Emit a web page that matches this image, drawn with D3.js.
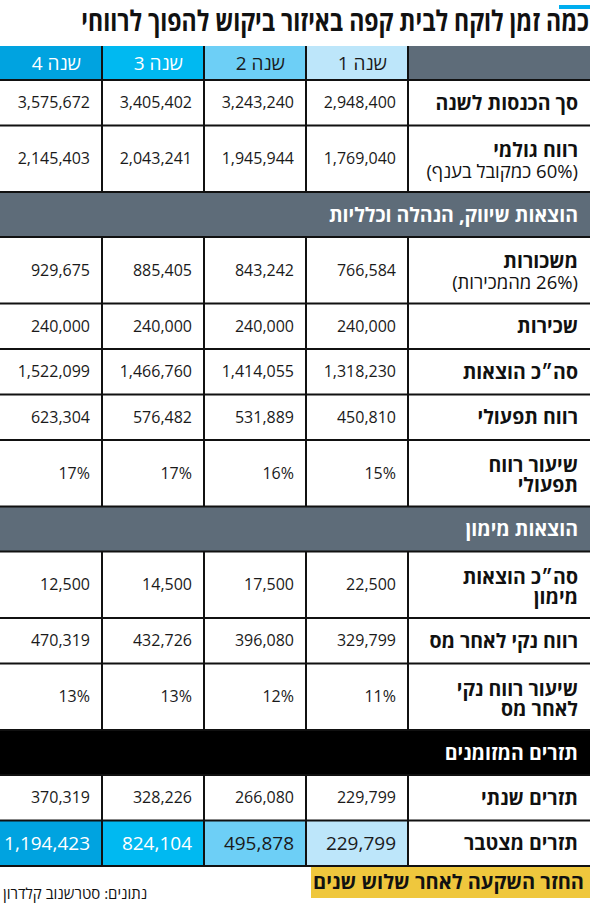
<!DOCTYPE html>
<html><head><meta charset="utf-8">
<script src="https://cdn.jsdelivr.net/npm/d3@7"></script>
<style>
html,body{margin:0;padding:0;background:#fff;}
svg{display:block;font-family:"Open Sans","Liberation Sans","DejaVu Sans",sans-serif;}
</style></head>
<body>
<script>
// ---- DATA ----
const title = "כמה זמן לוקח לבית קפה באיזור ביקוש להפוך לרווחי";
const years = ["שנה 1", "שנה 2", "שנה 3", "שנה 4"];
const revenue = [2948400, 3243240, 3405402, 3575672];
const grossProfit = [1769040, 1945944, 2043241, 2145403];
const salaries = [766584, 843242, 885405, 929675];
const rent = [240000, 240000, 240000, 240000];
const totalExpenses = [1318230, 1414055, 1466760, 1522099];
const operatingProfit = [450810, 531889, 576482, 623304];
const operatingMargin = [15, 16, 17, 17];
const financeExpenses = [22500, 17500, 14500, 12500];
const netProfit = [329799, 396080, 432726, 470319];
const netMargin = [11, 12, 13, 13];
const annualCashflow = [229799, 266080, 328226, 370319];
const cumulativeCashflow = [229799, 495878, 824104, 1194423];
const sectionLabels = ["הוצאות שיווק, הנהלה וכלליות", "הוצאות מימון", "תזרים המזומנים"];
const footnote = "החזר השקעה לאחר שלוש שנים";
const source = "נתונים: סטרשנוב קלדרון";

// table built from the arrays
const rows = [
  {type: "header"},
  {type: "data", label: ["סך הכנסות לשנה"], values: revenue},
  {type: "data", label: ["רווח גולמי"], sub: "(60% כמקובל בענף)", values: grossProfit},
  {type: "section", label: sectionLabels[0], fill: "#5e6c79"},
  {type: "data", label: ["משכורות"], sub: "(26% מהמכירות)", values: salaries},
  {type: "data", label: ["שכירות"], values: rent},
  {type: "data", label: ["סה״כ הוצאות"], values: totalExpenses},
  {type: "data", label: ["רווח תפעולי"], values: operatingProfit},
  {type: "data", label: ["שיעור רווח", "תפעולי"], values: operatingMargin, pct: true},
  {type: "section", label: sectionLabels[1], fill: "#5e6c79"},
  {type: "data", label: ["סה״כ הוצאות", "מימון"], values: financeExpenses},
  {type: "data", label: ["רווח נקי לאחר מס"], values: netProfit},
  {type: "data", label: ["שיעור רווח נקי", "לאחר מס"], values: netMargin, pct: true},
  {type: "section", label: sectionLabels[2], fill: "#000000"},
  {type: "data", label: ["תזרים שנתי"], values: annualCashflow},
  {type: "data", label: ["תזרים מצטבר"], values: cumulativeCashflow, highlight: true}
];

// ---- LAYOUT ----
const W = 590, H = 906;
const tableTop = 46, labelX = 408, labelRight = 578;
const yearColors = ["#bde6fa", "#6dcff6", "#00b9f1", "#00a3e0"];
const yearText = ["#1a1a1a", "#1a1a1a", "#ffffff", "#ffffff"];
const x = d3.scaleBand().domain(years).range([labelX, 0]).paddingInner(0).paddingOuter(0);
const color = d3.scaleOrdinal().domain(years).range(yearColors);
const txtColor = d3.scaleOrdinal().domain(years).range(yearText);
const fmt = d3.format(",");

function rowHeight(r) {
  if (r.type === "header") return 34;
  if (r.type === "section") return 45;
  return (r.sub || r.label.length > 1) ? 66.5 : 45.5;
}
let yy = tableTop;
rows.forEach(r => { r.y0 = yy; r.h = rowHeight(r); yy += r.h; r.y1 = yy; r.mid = (r.y0 + r.y1) / 2; });
const tableBottom = yy;

const svg = d3.select("body").append("svg").attr("width", W).attr("height", H);

// top accent + title (horizontally condensed to the reference width)
svg.append("rect").attr("x", 559).attr("y", 5).attr("width", 31).attr("height", 4).attr("fill", "#00aeef");
const titleG = svg.append("g");
const titleT = titleG.append("text").attr("x", 0).attr("y", 0)
  .attr("direction", "rtl").attr("text-anchor", "start")
  .attr("font-size", 28).attr("font-weight", 700).attr("fill", "#111")
  .text(title);
const natW = titleT.node().getComputedTextLength();
const sx = Math.min(1, 508 / natW);
titleG.attr("transform", `translate(589,31) scale(${sx},1)`);

const g = svg.append("g");
function label(txt, yv, size, weight, fill) {
  g.append("text").attr("x", labelRight).attr("y", yv)
    .attr("direction", "rtl").attr("text-anchor", "start")
    .attr("font-size", size).attr("font-weight", weight).attr("fill", fill || "#111").text(txt);
}

rows.forEach(r => {
  if (r.type === "header") {
    g.append("rect").attr("x", labelX).attr("y", r.y0).attr("width", W - labelX).attr("height", r.h).attr("fill", "#5e6c79");
    g.selectAll(null).data(years).join("rect")
      .attr("x", d => x(d)).attr("y", r.y0).attr("width", x.bandwidth()).attr("height", r.h)
      .attr("fill", d => color(d));
    g.selectAll(null).data(years).join("text")
      .attr("x", d => x(d) + x.bandwidth() - 21).attr("y", r.mid + 7)
      .attr("direction", "rtl").attr("text-anchor", "start")
      .attr("font-size", 19).attr("font-weight", 500)
      .attr("fill", d => txtColor(d)).text(d => d);
  } else if (r.type === "section") {
    g.append("rect").attr("x", 0).attr("y", r.y0).attr("width", W).attr("height", r.h).attr("fill", r.fill);
    label(r.label, r.mid + 7, 19.5, 700, "#fff");
  } else {
    const cells = years.map((yr, i) => ({yr, v: r.values[i]}));
    if (r.highlight) {
      g.selectAll(null).data(cells).join("rect")
        .attr("x", d => x(d.yr)).attr("y", r.y0).attr("width", x.bandwidth()).attr("height", r.h)
        .attr("fill", d => color(d.yr));
    }
    g.selectAll(null).data(cells).join("text")
      .attr("x", d => x(d.yr) + x.bandwidth() - 12)
      .attr("y", r.mid + (r.highlight ? 7 : 5.5))
      .attr("text-anchor", "end")
      .attr("font-size", r.highlight ? 19 : 16)
      .attr("font-weight", 400)
      .attr("fill", d => r.highlight ? txtColor(d.yr) : "#1a1a1a")
      .text(d => r.pct ? d.v + "%" : fmt(d.v));
    const lines = r.label;
    if (r.sub) {
      label(lines[0], r.mid - 2, 19.5, 700);
      label(r.sub, r.mid + 19, 18.5, 400);
    } else if (lines.length > 1) {
      lines.forEach((ln, i) => label(ln, r.mid - 1 + i * 20, 19.5, 700));
    } else {
      label(lines[0], r.mid + 7, 19.5, 700);
    }
  }
});

// grid lines
const lineG = svg.append("g").attr("stroke", "#111").attr("stroke-width", 2);
const colEdges = years.map(d => x(d)).filter(v => v > 0).concat([labelX]);
rows.forEach(r => {
  if (r.type !== "section") {
    colEdges.forEach(cx => {
      lineG.append("line").attr("x1", cx).attr("x2", cx).attr("y1", r.y0).attr("y2", r.y1);
    });
  }
  lineG.append("line").attr("x1", 0).attr("x2", W).attr("y1", r.y1).attr("y2", r.y1);
});

// footnote box
svg.append("rect").attr("x", 311).attr("y", tableBottom + 1).attr("width", W - 311).attr("height", 31).attr("fill", "#efc73d");
svg.append("text").attr("x", 584).attr("y", tableBottom + 23)
  .attr("direction", "rtl").attr("text-anchor", "start")
  .attr("font-size", 20).attr("font-weight", 700).attr("fill", "#111").text(footnote);

// source
svg.append("text").attr("x", 3).attr("y", 899)
  .attr("direction", "rtl").attr("text-anchor", "end")
  .attr("font-size", 15).attr("font-weight", 400).attr("fill", "#111").text(source);
</script>
</body></html>
